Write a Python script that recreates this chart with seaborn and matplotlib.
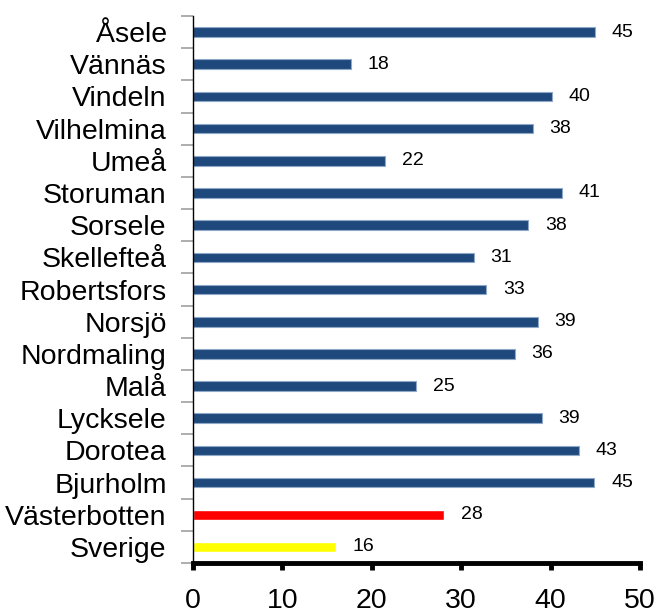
import numpy as np
import pandas as pd
import seaborn as sns
import matplotlib.pyplot as plt
from matplotlib.ticker import FixedLocator

# Data
kommuner = ["Åsele", "Vännäs", "Vindeln", "Vilhelmina", "Umeå", "Storuman",
            "Sorsele", "Skellefteå", "Robertsfors", "Norsjö", "Nordmaling",
            "Malå", "Lycksele", "Dorotea", "Bjurholm", "Västerbotten", "Sverige"]
varden = [45.0, 17.7, 40.2, 38.0, 21.5, 41.3, 37.5, 31.4, 32.8, 38.6, 36.0,
          25.0, 39.0, 43.2, 44.9, 28.1, 16.0]
farger = ["#1F497D"] * 15 + ["#FF0000", "#FFFF00"]

df = pd.DataFrame({"kommun": kommuner, "varde": varden})

sns.set_style("white")
plt.rcParams["font.family"] = ["Liberation Sans", "DejaVu Sans"]
plt.rcParams["text.color"] = "black"
plt.rcParams["xtick.color"] = "black"
plt.rcParams["ytick.color"] = "black"

fig = plt.figure(figsize=(6.57, 6.16), dpi=100)
ax = fig.add_axes([0.2938, 0.086, 0.974 - 0.2938, 0.974 - 0.086])

sns.barplot(data=df, x="varde", y="kommun", hue="kommun", palette=farger,
            orient="h", width=0.3, legend=False, saturation=1, ax=ax)

# light edge on the blue bars, like the original
for p in ax.patches:
    if np.allclose(p.get_facecolor()[:3], plt.matplotlib.colors.to_rgb("#1F497D")):
        p.set_edgecolor("#8FA8C8")
        p.set_linewidth(0.8)

# value labels
for i, v in enumerate(varden):
    ax.annotate(f"{round(v)}", xy=(v, i), xytext=(12, 0), textcoords="offset points",
                va="center", ha="left", fontsize=14, color="black")

ax.set_xlim(0, 50)
ax.set_ylim(len(kommuner) - 0.5, -0.5)
ax.set_xticks(range(0, 51, 10))
ax.set_xlabel("")
ax.set_ylabel("")

sns.despine(ax=ax, top=True, right=True)
ax.spines["left"].set_color("black")
ax.spines["left"].set_linewidth(1.0)
ax.spines["bottom"].set_color("black")
ax.spines["bottom"].set_linewidth(3.5)

ax.tick_params(axis="x", direction="out", length=5, width=3.5, color="black",
               labelsize=20.5, pad=13, bottom=True, labelcolor="black")
ax.tick_params(axis="y", which="major", length=0, labelsize=20.5, pad=19,
               labelcolor="black")
ax.yaxis.set_minor_locator(FixedLocator(np.arange(-0.5, len(kommuner), 1)))
ax.tick_params(axis="y", which="minor", direction="out", length=9, width=1.2,
               color="#A0A0A0", left=True)

fig.savefig("out.png", dpi=100)
